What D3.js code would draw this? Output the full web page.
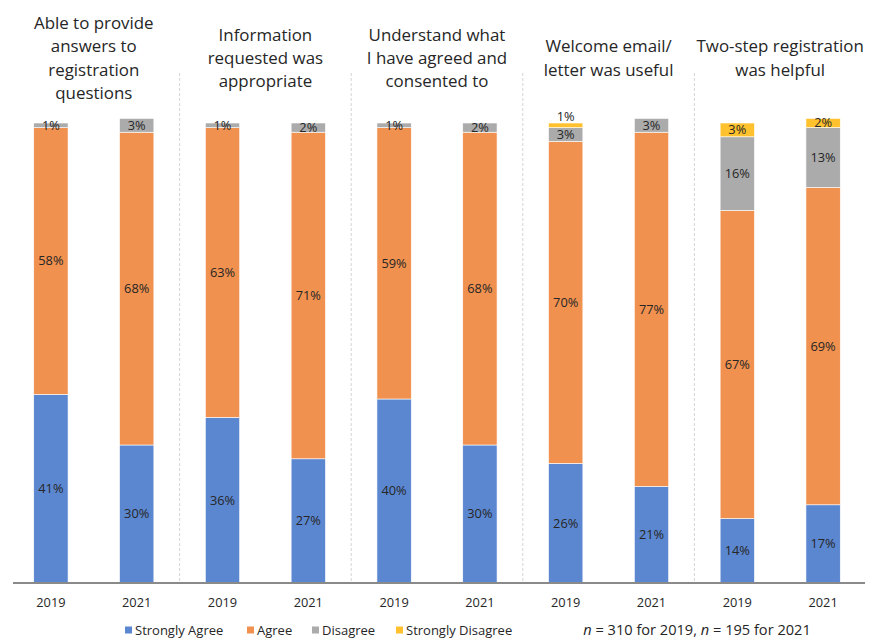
<!DOCTYPE html>
<html>
<head>
<meta charset="utf-8">
<script src="https://cdn.jsdelivr.net/npm/d3@7"></script>
<style>
  html, body { margin: 0; padding: 0; background: #fff; }
  svg { display: block; }
  text { font-family: "Open Sans", "Noto Sans", sans-serif; fill: #262626; }
</style>
</head>
<body>
<svg id="chart" width="878" height="641"></svg>
<script>
// ---------- data ----------
const titleLines = [
  ["Able to provide", "answers to", "registration", "questions"],
  ["Information", "requested was", "appropriate"],
  ["Understand what", "I have agreed and", "consented to"],
  ["Welcome email/", "letter was useful"],
  ["Two-step registration", "was helpful"]
];
const years = ["2019", "2021"];
const seriesNames = ["Strongly Agree", "Agree", "Disagree", "Strongly Disagree"];
// values per question: [2019, 2021]
const stronglyAgree    = [[41, 30], [36, 27], [40, 30], [26, 21], [14, 17]];
const agree            = [[58, 68], [63, 71], [59, 68], [70, 77], [67, 69]];
const disagree         = [[1, 3],   [1, 2],   [1, 2],   [3, 3],   [16, 13]];
const stronglyDisagree = [[0, 0],   [0, 0],   [0, 0],   [1, 0],   [3, 2]];
const note = { n2019: 310, n2021: 195 };

// ---------- setup ----------
const colors = ["#5B86D0", "#F0914F", "#ABABAB", "#FFC22E"];
const seriesData = [stronglyAgree, agree, disagree, stronglyDisagree];
const svg = d3.select("#chart");

const groupIdx = d3.range(titleLines.length);
const x0 = d3.scaleBand().domain(groupIdx).range([8, 866]).padding(0);
const x1 = d3.scaleBand().domain(years).range([0, x0.bandwidth()])
  .paddingInner(0.6).paddingOuter(0.3);
const y = d3.scaleLinear().domain([0, 100]).range([583, 123]);

// build stacked rows
const rows = [];
groupIdx.forEach(g => years.forEach((yr, yi) => {
  const r = { g, year: yr };
  seriesNames.forEach((s, si) => r[s] = seriesData[si][g][yi]);
  rows.push(r);
}));
const stack = d3.stack().keys(seriesNames);
const stacked = stack(rows);

// ---------- separators ----------
svg.append("g").selectAll("line")
  .data(groupIdx.slice(1))
  .join("line")
  .attr("x1", g => x0(g)).attr("x2", g => x0(g))
  .attr("y1", 73).attr("y2", y(0))
  .attr("stroke", "#d4d4d4").attr("stroke-width", 1)
  .attr("stroke-dasharray", "3,2");

// ---------- bars ----------
const barX = d => x0(d.data.g) + x1(d.data.year);
const layers = svg.append("g").selectAll("g")
  .data(stacked)
  .join("g")
  .attr("fill", (d, i) => colors[i]);
layers.selectAll("rect")
  .data(d => d.filter(p => p[1] - p[0] > 0))
  .join("rect")
  .attr("x", barX)
  .attr("width", x1.bandwidth())
  .attr("y", d => y(d[1]))
  .attr("height", d => y(d[0]) - y(d[1]))
  .attr("stroke", "#ffffff")
  .attr("stroke-width", 0.6);

// ---------- value labels (with simple overlap avoidance) ----------
const labelH = 17.5;
const labels = [];
rows.forEach((r, ri) => {
  const ls = [];
  stacked.forEach((layer, si) => {
    const p = layer[ri];
    const v = p[1] - p[0];
    if (v > 0) ls.push({ x: x0(r.g) + x1(r.year) + x1.bandwidth() / 2,
                         cy: y((p[0] + p[1]) / 2), text: v + "%" });
  });
  for (let i = 1; i < ls.length; i++) {
    if (ls[i - 1].cy - ls[i].cy < labelH) ls[i].cy = ls[i - 1].cy - labelH;
  }
  labels.push(...ls);
});
svg.append("g").selectAll("text")
  .data(labels)
  .join("text")
  .attr("x", d => d.x).attr("y", d => d.cy)
  .attr("dy", "0.35em")
  .attr("text-anchor", "middle")
  .style("font-size", "12.8px")
  .text(d => d.text);

// ---------- axis ----------
const axisG = svg.append("g").attr("transform", `translate(0,${y(0)})`);
axisG.append("line")
  .attr("x1", 13).attr("x2", 865)
  .attr("stroke", "#8a8a8a").attr("stroke-width", 2);
axisG.selectAll("text.yr")
  .data(rows)
  .join("text")
  .attr("class", "yr")
  .attr("x", d => x0(d.g) + x1(d.year) + x1.bandwidth() / 2)
  .attr("y", 20)
  .attr("dy", "0.35em")
  .attr("text-anchor", "middle")
  .style("font-size", "12.8px")
  .text(d => d.year);

// ---------- titles ----------
const lineH = 23.3;
const titleCY = 58;
const tg = svg.append("g").selectAll("text")
  .data(groupIdx)
  .join("text")
  .attr("text-anchor", "middle")
  .style("font-size", "16.9px");
tg.selectAll("tspan")
  .data(g => titleLines[g].map((t, i) => ({ g, t, i, n: titleLines[g].length })))
  .join("tspan")
  .attr("x", d => x0(d.g) + x0.bandwidth() / 2)
  .attr("y", d => titleCY + (d.i - (d.n - 1) / 2) * lineH)
  .attr("dy", "0.35em")
  .text(d => d.t);

// ---------- legend ----------
const legendStarts = [125, 247, 312, 396];
const lg = svg.append("g").selectAll("g")
  .data(seriesNames)
  .join("g")
  .attr("transform", (d, i) => `translate(${legendStarts[i]},630)`);
lg.append("rect")
  .attr("x", 0).attr("y", -3.5).attr("width", 7).attr("height", 7)
  .attr("fill", (d, i) => colors[i]);
lg.append("text")
  .attr("x", 10).attr("dy", "0.35em")
  .style("font-size", "13px")
  .text(d => d);

// ---------- note ----------
const nt = svg.append("text")
  .attr("x", 697).attr("y", 630).attr("dy", "0.35em")
  .attr("text-anchor", "middle")
  .style("font-size", "14.6px");
nt.append("tspan").style("font-style", "italic").text("n");
nt.append("tspan").text(` = ${note.n2019} for 2019, `);
nt.append("tspan").style("font-style", "italic").text("n");
nt.append("tspan").text(` = ${note.n2021} for 2021`);
</script>
</body>
</html>
